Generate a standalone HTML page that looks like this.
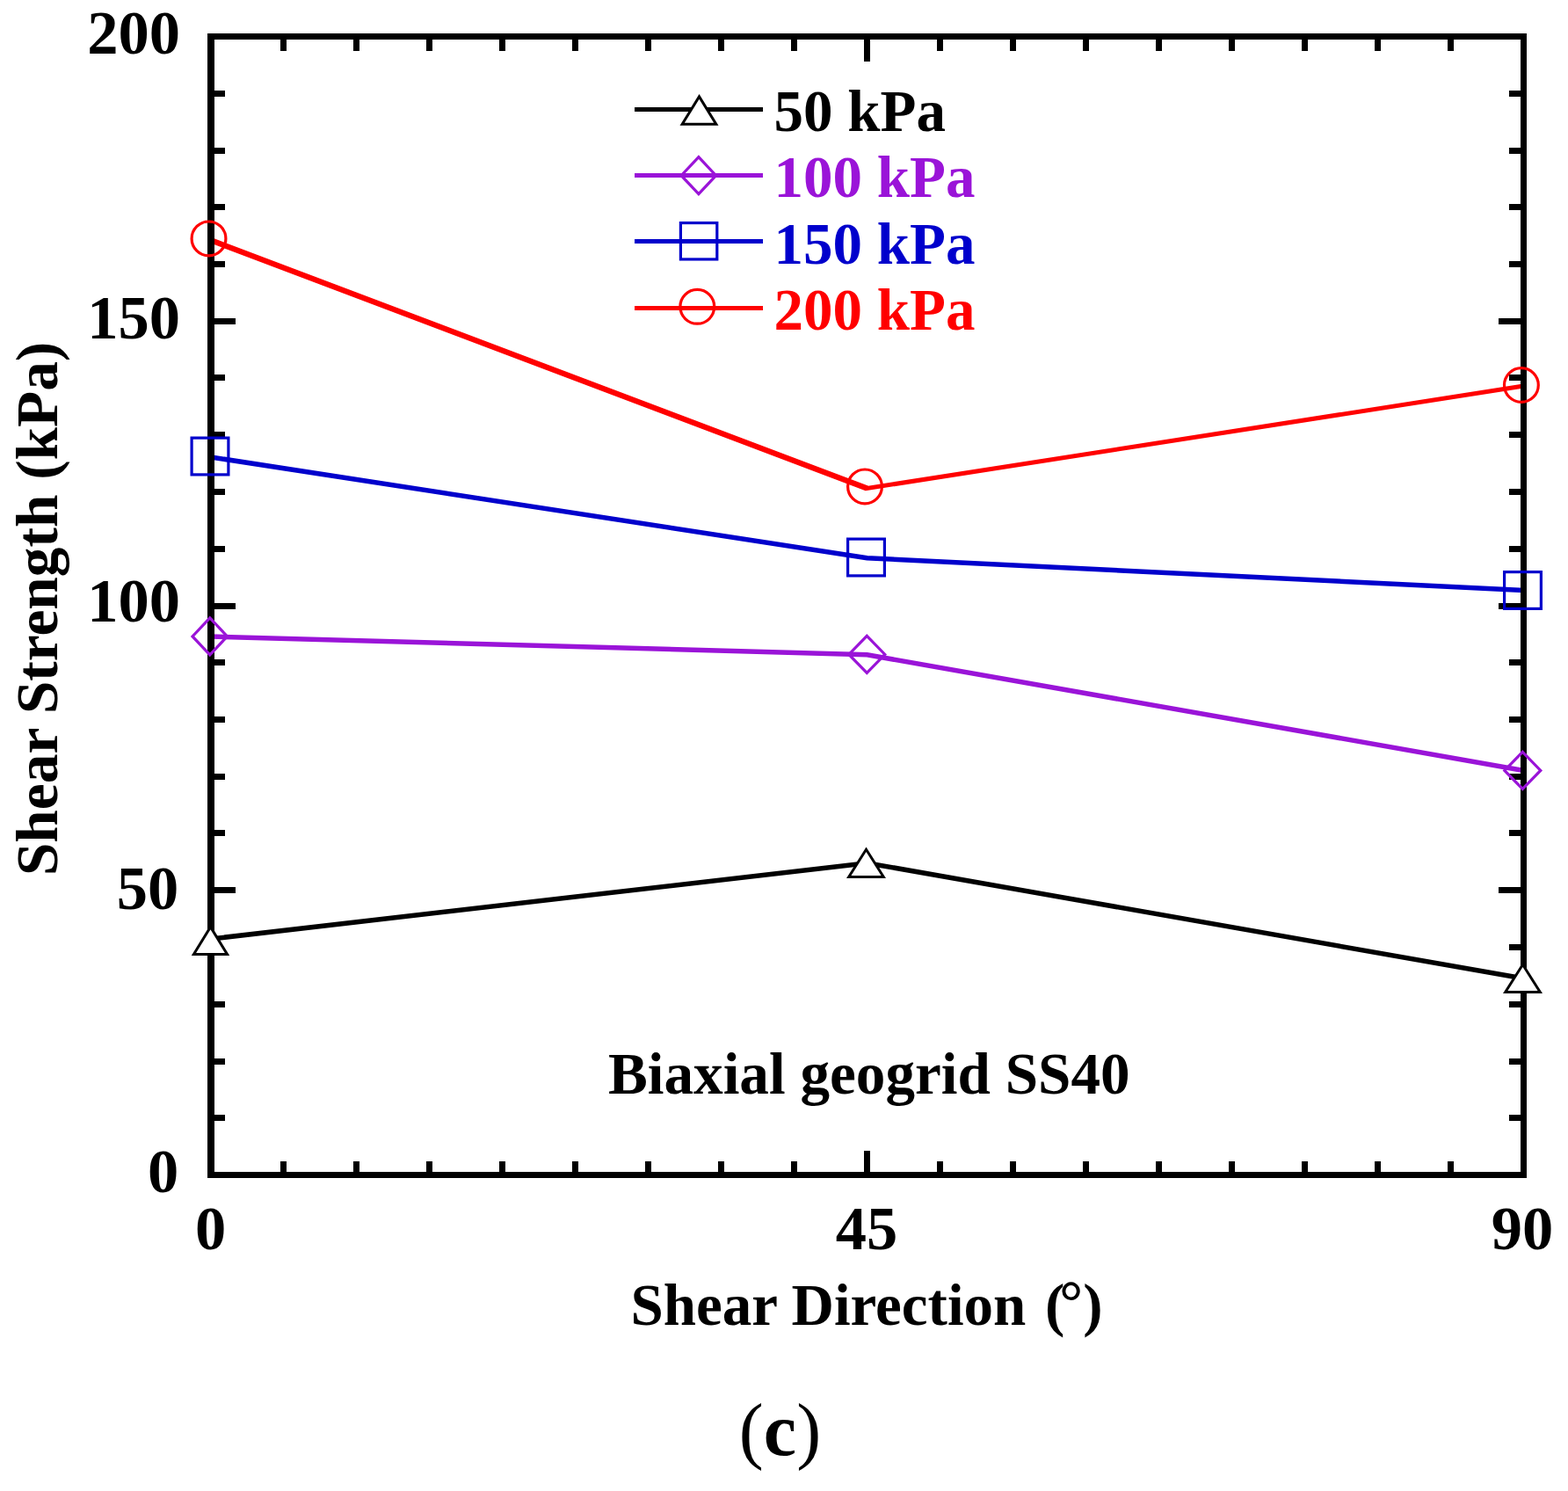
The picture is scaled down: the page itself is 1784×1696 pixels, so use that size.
<!DOCTYPE html><html><head><meta charset="utf-8"><title>Shear Strength vs Shear Direction</title>
<style>html,body{margin:0;padding:0;background:#fff;width:1784px;height:1696px;overflow:hidden}svg{display:block}</style></head><body>
<svg width="1784" height="1696" viewBox="0 0 1784 1696">
<rect x="0" y="0" width="1784" height="1696" fill="#fff"/>
<polyline points="240.0,273.3 986.5,555.5 1733.5,439.0" fill="none" stroke="#ff0000" stroke-width="5" stroke-linejoin="miter"/>
<line x1="240.0" y1="273.3" x2="986.5" y2="555.5" stroke="#ff0000" stroke-width="6.3"/>
<polyline points="240.0,520.0 986.5,634.8 1733.5,671.5" fill="none" stroke="#0000cc" stroke-width="5.5" stroke-linejoin="miter"/>
<polyline points="240.0,724.0 986.5,744.8 1733.5,876.5" fill="none" stroke="#9a14d8" stroke-width="5.5" stroke-linejoin="miter"/>
<polyline points="240.0,1068.0 986.5,981.7 1733.5,1113.0" fill="none" stroke="#000000" stroke-width="5.5" stroke-linejoin="miter"/>
<g fill="#000">
<rect x="236" y="38" width="8" height="1302"/>
<rect x="1730" y="38" width="7" height="1302"/>
<rect x="236" y="38" width="1501" height="7"/>
<rect x="236" y="1333" width="1501" height="7"/>
<rect x="244" y="1268" width="12" height="7"/>
<rect x="1717" y="1268" width="13" height="7"/>
<rect x="244" y="1204" width="12" height="7"/>
<rect x="1717" y="1204" width="13" height="7"/>
<rect x="244" y="1139" width="12" height="7"/>
<rect x="1717" y="1139" width="13" height="7"/>
<rect x="1717" y="1074" width="13" height="7"/>
<rect x="244" y="1009" width="24" height="7"/>
<rect x="1705" y="1009" width="25" height="7"/>
<rect x="244" y="944" width="12" height="7"/>
<rect x="1717" y="944" width="13" height="7"/>
<rect x="244" y="880" width="12" height="7"/>
<rect x="1717" y="880" width="13" height="7"/>
<rect x="244" y="815" width="12" height="7"/>
<rect x="1717" y="815" width="13" height="7"/>
<rect x="244" y="750" width="12" height="7"/>
<rect x="1717" y="750" width="13" height="7"/>
<rect x="244" y="686" width="24" height="7"/>
<rect x="1705" y="686" width="25" height="7"/>
<rect x="244" y="621" width="12" height="7"/>
<rect x="1717" y="621" width="13" height="7"/>
<rect x="244" y="556" width="12" height="7"/>
<rect x="1717" y="556" width="13" height="7"/>
<rect x="244" y="491" width="12" height="7"/>
<rect x="1717" y="491" width="13" height="7"/>
<rect x="244" y="426" width="12" height="7"/>
<rect x="1717" y="426" width="13" height="7"/>
<rect x="244" y="362" width="24" height="7"/>
<rect x="1705" y="362" width="25" height="7"/>
<rect x="244" y="297" width="12" height="7"/>
<rect x="1717" y="297" width="13" height="7"/>
<rect x="244" y="232" width="12" height="7"/>
<rect x="1717" y="232" width="13" height="7"/>
<rect x="244" y="168" width="12" height="7"/>
<rect x="1717" y="168" width="13" height="7"/>
<rect x="244" y="103" width="12" height="7"/>
<rect x="1717" y="103" width="13" height="7"/>
<rect x="319" y="1321" width="7" height="12"/>
<rect x="319" y="45" width="7" height="13"/>
<rect x="402" y="1321" width="7" height="12"/>
<rect x="402" y="45" width="7" height="13"/>
<rect x="485" y="1321" width="7" height="12"/>
<rect x="485" y="45" width="7" height="13"/>
<rect x="568" y="1321" width="7" height="12"/>
<rect x="568" y="45" width="7" height="13"/>
<rect x="651" y="1321" width="7" height="12"/>
<rect x="651" y="45" width="7" height="13"/>
<rect x="734" y="1321" width="7" height="12"/>
<rect x="734" y="45" width="7" height="13"/>
<rect x="817" y="1321" width="7" height="12"/>
<rect x="817" y="45" width="7" height="13"/>
<rect x="900" y="1321" width="7" height="12"/>
<rect x="900" y="45" width="7" height="13"/>
<rect x="983" y="1309" width="7" height="24"/>
<rect x="983" y="45" width="7" height="25"/>
<rect x="1066" y="1321" width="7" height="12"/>
<rect x="1066" y="45" width="7" height="13"/>
<rect x="1149" y="1321" width="7" height="12"/>
<rect x="1149" y="45" width="7" height="13"/>
<rect x="1232" y="1321" width="7" height="12"/>
<rect x="1232" y="45" width="7" height="13"/>
<rect x="1315" y="1321" width="7" height="12"/>
<rect x="1315" y="45" width="7" height="13"/>
<rect x="1398" y="1321" width="7" height="12"/>
<rect x="1398" y="45" width="7" height="13"/>
<rect x="1481" y="1321" width="7" height="12"/>
<rect x="1481" y="45" width="7" height="13"/>
<rect x="1564" y="1321" width="7" height="12"/>
<rect x="1564" y="45" width="7" height="13"/>
<rect x="1647" y="1321" width="7" height="12"/>
<rect x="1647" y="45" width="7" height="13"/>
</g>
<circle cx="237.5" cy="271.4" r="19.40" fill="none" stroke="#ff0000" stroke-width="3.2"/>
<circle cx="984.0" cy="553.4" r="19.40" fill="none" stroke="#ff0000" stroke-width="3.2"/>
<circle cx="1730.9" cy="438.0" r="19.40" fill="none" stroke="#ff0000" stroke-width="3.2"/>
<rect x="218.10" y="498.10" width="41.80" height="41.80" fill="none" stroke="#0000cc" stroke-width="3.2"/>
<rect x="964.60" y="613.10" width="41.80" height="41.80" fill="none" stroke="#0000cc" stroke-width="3.2"/>
<rect x="1711.60" y="650.60" width="41.80" height="41.80" fill="none" stroke="#0000cc" stroke-width="3.2"/>
<polygon points="238.8,702.9 258.6,723.9 238.8,744.9 219.0,723.9" fill="none" stroke="#9a14d8" stroke-width="3.2" stroke-miterlimit="10"/>
<polygon points="986.3,723.4 1006.8,744.4 986.3,765.4 965.8,744.4" fill="none" stroke="#9a14d8" stroke-width="3.2" stroke-miterlimit="10"/>
<polygon points="1732.3,855.4 1752.8,876.4 1732.3,897.4 1711.8,876.4" fill="none" stroke="#9a14d8" stroke-width="3.2" stroke-miterlimit="10"/>
<polygon points="239.50,1054.37 258.57,1085.50 220.43,1085.50" fill="#fff" stroke="#000000" stroke-width="3" stroke-linejoin="miter" stroke-miterlimit="10"/>
<polygon points="985.50,966.30 1005.27,997.50 965.73,997.50" fill="#fff" stroke="#000000" stroke-width="3" stroke-linejoin="miter" stroke-miterlimit="10"/>
<polygon points="1732.50,1097.30 1752.27,1128.50 1712.73,1128.50" fill="#fff" stroke="#000000" stroke-width="3" stroke-linejoin="miter" stroke-miterlimit="10"/>
<rect x="722" y="122" width="146" height="5" fill="#000000"/>
<rect x="722" y="197" width="146" height="5" fill="#9a14d8"/>
<rect x="722" y="272" width="146" height="5" fill="#0000cc"/>
<rect x="722" y="348" width="146" height="5" fill="#ff0000"/>
<polygon points="795.50,109.86 814.81,141.20 776.19,141.20" fill="#fff" stroke="#000000" stroke-width="3" stroke-linejoin="miter" stroke-miterlimit="10"/>
<polygon points="794.9,178.7 814.6,199.7 794.9,220.7 775.1,199.7" fill="none" stroke="#9a14d8" stroke-width="3.2" stroke-miterlimit="10"/>
<rect x="774.40" y="253.55" width="41.40" height="41.40" fill="none" stroke="#0000cc" stroke-width="3.2"/>
<circle cx="793.3" cy="348.8" r="19.40" fill="none" stroke="#ff0000" stroke-width="3.2"/>
<text x="880.5" y="148.9" font-family="'Liberation Serif', 'Times New Roman', serif" font-weight="bold" font-size="67" fill="#000000">50 kPa</text>
<text x="880.5" y="224.3" font-family="'Liberation Serif', 'Times New Roman', serif" font-weight="bold" font-size="67" fill="#9a14d8">100 kPa</text>
<text x="880.5" y="299.5" font-family="'Liberation Serif', 'Times New Roman', serif" font-weight="bold" font-size="67" fill="#0000cc">150 kPa</text>
<text x="880.5" y="375.0" font-family="'Liberation Serif', 'Times New Roman', serif" font-weight="bold" font-size="67" fill="#ff0000">200 kPa</text>
<text x="205.0" y="60.5" font-family="'Liberation Serif', 'Times New Roman', serif" font-weight="bold" font-size="70.5" text-anchor="end">200</text>
<text x="205.0" y="385.0" font-family="'Liberation Serif', 'Times New Roman', serif" font-weight="bold" font-size="70.5" text-anchor="end">150</text>
<text x="205.0" y="706.9" font-family="'Liberation Serif', 'Times New Roman', serif" font-weight="bold" font-size="70.5" text-anchor="end">100</text>
<text x="203.2" y="1033.6" font-family="'Liberation Serif', 'Times New Roman', serif" font-weight="bold" font-size="70.5" text-anchor="end">50</text>
<text x="203.2" y="1355.5" font-family="'Liberation Serif', 'Times New Roman', serif" font-weight="bold" font-size="70.5" text-anchor="end">0</text>
<text x="239.6" y="1421" font-family="'Liberation Serif', 'Times New Roman', serif" font-weight="bold" font-size="70.5" text-anchor="middle">0</text>
<text x="986.0" y="1421" font-family="'Liberation Serif', 'Times New Roman', serif" font-weight="bold" font-size="70.5" text-anchor="middle">45</text>
<text x="1732.0" y="1421" font-family="'Liberation Serif', 'Times New Roman', serif" font-weight="bold" font-size="70.5" text-anchor="middle">90</text>
<text x="986" y="1507" font-family="'Liberation Serif', 'Times New Roman', serif" font-weight="bold" font-size="67" text-anchor="middle">Shear Direction <tspan dx="5">(</tspan><tspan dx="-6" dy="-3.5">°</tspan><tspan dy="3.5">)</tspan></text>
<text transform="translate(64.5,692.4) rotate(-90)" x="0" y="0" font-family="'Liberation Serif', 'Times New Roman', serif" font-weight="bold" font-size="67.35" text-anchor="middle">Shear Strength (kPa)</text>
<text x="988.8" y="1243.9" font-family="'Liberation Serif', 'Times New Roman', serif" font-weight="bold" font-size="67.2" text-anchor="middle">Biaxial geogrid SS40</text>
<text x="887.5" y="1655" font-family="'Liberation Serif', 'Times New Roman', serif" font-weight="bold" font-size="84" text-anchor="middle"><tspan font-weight="normal">(</tspan>c<tspan font-weight="normal">)</tspan></text>
</svg></body></html>
